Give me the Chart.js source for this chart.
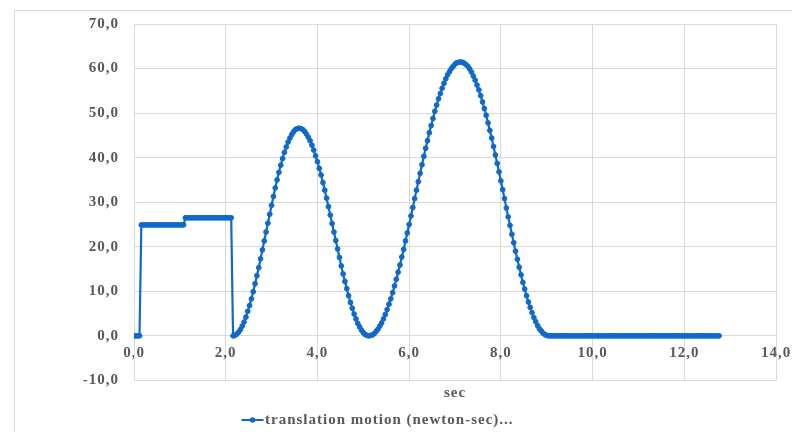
<!DOCTYPE html>
<html>
<head>
<meta charset="utf-8">
<style>
  html, body { margin: 0; padding: 0; background: #ffffff; }
  #wrap { width: 792px; height: 432px; }
</style>
<script src="https://cdn.jsdelivr.net/npm/chart.js@4/dist/chart.umd.min.js"></script>
</head>
<body>
<div id="wrap"><canvas id="c" width="792" height="432"></canvas></div>
<script>
// Sample times (s)
const timeSec = [
  0.00,0.04,0.08,0.12,0.16,0.20,0.24,0.28,0.32,0.36,0.40,0.44,0.48,0.52,0.56,0.60,0.64,0.68,0.72,0.76,0.80,0.84,0.88,0.92,0.96,
  1.00,1.04,1.08,1.12,1.16,1.20,1.24,1.28,1.32,1.36,1.40,1.44,1.48,1.52,1.56,1.60,1.64,1.68,1.72,1.76,1.80,1.84,1.88,1.92,1.96,
  2.00,2.04,2.08,2.12,2.16,2.20,2.24,2.28,2.32,2.36,2.40,2.44,2.48,2.52,2.56,2.60,2.64,2.68,2.72,2.76,2.80,2.84,2.88,2.92,2.96,
  3.00,3.04,3.08,3.12,3.16,3.20,3.24,3.28,3.32,3.36,3.40,3.44,3.48,3.52,3.56,3.60,3.64,3.68,3.72,3.76,3.80,3.84,3.88,3.92,3.96,
  4.00,4.04,4.08,4.12,4.16,4.20,4.24,4.28,4.32,4.36,4.40,4.44,4.48,4.52,4.56,4.60,4.64,4.68,4.72,4.76,4.80,4.84,4.88,4.92,4.96,
  5.00,5.04,5.08,5.12,5.16,5.20,5.24,5.28,5.32,5.36,5.40,5.44,5.48,5.52,5.56,5.60,5.64,5.68,5.72,5.76,5.80,5.84,5.88,5.92,5.96,
  6.00,6.04,6.08,6.12,6.16,6.20,6.24,6.28,6.32,6.36,6.40,6.44,6.48,6.52,6.56,6.60,6.64,6.68,6.72,6.76,6.80,6.84,6.88,6.92,6.96,
  7.00,7.04,7.08,7.12,7.16,7.20,7.24,7.28,7.32,7.36,7.40,7.44,7.48,7.52,7.56,7.60,7.64,7.68,7.72,7.76,7.80,7.84,7.88,7.92,7.96,
  8.00,8.04,8.08,8.12,8.16,8.20,8.24,8.28,8.32,8.36,8.40,8.44,8.48,8.52,8.56,8.60,8.64,8.68,8.72,8.76,8.80,8.84,8.88,8.92,8.96,
  9.00,9.04,9.08,9.12,9.16,9.20,9.24,9.28,9.32,9.36,9.40,9.44,9.48,9.52,9.56,9.60,9.64,9.68,9.72,9.76,9.80,9.84,9.88,9.92,9.96,
  10.00,10.04,10.08,10.12,10.16,10.20,10.24,10.28,10.32,10.36,10.40,10.44,10.48,10.52,10.56,10.60,10.64,10.68,10.72,10.76,10.80,10.84,10.88,10.92,10.96,
  11.00,11.04,11.08,11.12,11.16,11.20,11.24,11.28,11.32,11.36,11.40,11.44,11.48,11.52,11.56,11.60,11.64,11.68,11.72,11.76,11.80,11.84,11.88,11.92,11.96,
  12.00,12.04,12.08,12.12,12.16,12.20,12.24,12.28,12.32,12.36,12.40,12.44,12.48,12.52,12.56,12.60,12.64,12.68,12.72,12.76
];

// Translation motion (newton-sec), one value per sample time
const translationMotion = [
  0,0,0,0,24.9,24.9,24.9,24.9,24.9,24.9,24.9,24.9,24.9,24.9,24.9,24.9,24.9,24.9,24.9,24.9,24.9,24.9,24.9,24.9,24.9,
  24.9,24.9,24.9,26.5,26.5,26.5,26.5,26.5,26.5,26.5,26.5,26.5,26.5,26.5,26.5,26.5,26.5,26.5,26.5,26.5,26.5,26.5,26.5,26.5,26.5,
  26.5,26.5,26.5,26.5,0,0.1,0.4,0.8,1.4,2.2,3.1,4.2,5.5,6.8,8.3,9.9,11.7,13.5,15.3,17.3,19.3,21.3,23.3,25.3,27.3,
  29.3,31.3,33.2,35.0,36.7,38.3,39.8,41.2,42.4,43.5,44.4,45.2,45.8,46.3,46.5,46.6,46.5,46.3,45.9,45.3,44.6,43.8,42.8,41.7,40.4,
  39.1,37.6,36.1,34.4,32.7,30.9,29.0,27.1,25.2,23.3,21.4,19.5,17.6,15.7,13.9,12.2,10.6,9.0,7.5,6.2,4.9,3.8,2.8,2.0,1.3,
  0.7,0.3,0.1,0,0.1,0.2,0.5,1.0,1.5,2.2,2.9,3.8,4.8,5.9,7.1,8.3,9.7,11.2,12.7,14.3,15.9,17.7,19.4,21.3,23.1,
  25.0,26.9,28.8,30.8,32.7,34.6,36.5,38.4,40.3,42.1,43.8,45.6,47.2,48.8,50.4,51.8,53.2,54.4,55.6,56.7,57.7,58.6,59.3,60.0,60.5,
  61.0,61.3,61.4,61.5,61.4,61.2,60.9,60.5,59.9,59.2,58.3,57.4,56.3,55.2,53.9,52.5,51.0,49.5,47.8,46.1,44.4,42.5,40.6,38.7,36.8,
  34.8,32.8,30.8,28.7,26.7,24.8,22.8,20.9,19.0,17.2,15.4,13.7,12.0,10.5,9.0,7.6,6.4,5.2,4.1,3.2,2.3,1.6,1.1,0.6,0.3,
  0.1,0,0,0,0,0,0,0,0,0,0,0,0,0,0,0,0,0,0,0,0,0,0,0,0,
  0,0,0,0,0,0,0,0,0,0,0,0,0,0,0,0,0,0,0,0,0,0,0,0,0,
  0,0,0,0,0,0,0,0,0,0,0,0,0,0,0,0,0,0,0,0,0,0,0,0,0,
  0,0,0,0,0,0,0,0,0,0,0,0,0,0,0,0,0,0,0,0
];

const xTickValues = [0, 2, 4, 6, 8, 10, 12, 14];
const yTickValues = [-10, 0, 10, 20, 30, 40, 50, 60, 70];
const seriesName = 'translation motion (newton-sec)...';
const xAxisTitle = 'sec';

const LINE_BLUE = '#1069CA';
const GRID_GREY = '#d9d9d9';
const TEXT_GREY = '#595959';
const SERIF = '"Liberation Serif", "Times New Roman", serif';
const labelFont = { family: SERIF, size: 15, weight: 'bold' };

const commaDecimal = v => Number(v).toFixed(1).replace('.', ',');

// Wide bold lettering, outer frame and the legend entry
const decorPlugin = {
  id: 'decor',
  beforeUpdate(chart) { chart.ctx.letterSpacing = '1px'; },
  beforeDraw(chart) {
    const ctx = chart.ctx;
    ctx.letterSpacing = '1px';
    ctx.save();
    ctx.strokeStyle = GRID_GREY;
    ctx.lineWidth = 1;
    ctx.beginPath();
    ctx.moveTo(14.5, chart.height);
    ctx.lineTo(14.5, 10.5);
    ctx.lineTo(chart.width, 10.5);
    ctx.stroke();
    ctx.restore();
  },
  afterDraw(chart) {
    const ctx = chart.ctx;
    const ds = chart.data.datasets[0];
    const y = 420;
    ctx.save();
    ctx.strokeStyle = ds.borderColor;
    ctx.lineWidth = 2;
    ctx.beginPath();
    ctx.moveTo(241.5, y);
    ctx.lineTo(263.5, y);
    ctx.stroke();
    ctx.fillStyle = ds.pointBackgroundColor;
    ctx.beginPath();
    ctx.arc(252.5, y, 2.8, 0, Math.PI * 2);
    ctx.fill();
    ctx.letterSpacing = '1px';
    ctx.font = 'bold 15px ' + SERIF;
    ctx.fillStyle = TEXT_GREY;
    ctx.textAlign = 'left';
    ctx.textBaseline = 'middle';
    ctx.fillText(ds.label, 265, y);
    ctx.restore();
  }
};

new Chart(document.getElementById('c'), {
  type: 'line',
  data: {
    datasets: [{
      label: seriesName,
      data: timeSec.map((t, i) => ({ x: t, y: translationMotion[i] })),
      borderColor: LINE_BLUE,
      backgroundColor: LINE_BLUE,
      pointBackgroundColor: LINE_BLUE,
      pointBorderColor: LINE_BLUE,
      borderWidth: 2.2,
      pointRadius: 2.4,
      pointBorderWidth: 1,
      tension: 0,
      fill: false
    }]
  },
  options: {
    responsive: false,
    animation: false,
    devicePixelRatio: 1,
    layout: { padding: { left: 0, top: 23, right: 16, bottom: 0 } },
    plugins: {
      legend: { display: false },
      tooltip: { enabled: false }
    },
    scales: {
      x: {
        type: 'linear',
        position: { y: 0 },
        min: 0,
        max: 14,
        afterBuildTicks: s => { s.ticks = xTickValues.map(v => ({ value: v })); },
        afterFit: s => { s.paddingLeft = 0; s.paddingRight = 0; },
        grid: { color: GRID_GREY, lineWidth: 1, drawTicks: false },
        border: { color: GRID_GREY, width: 1 },
        ticks: {
          padding: 8,
          maxRotation: 0,
          autoSkip: false,
          color: TEXT_GREY,
          font: labelFont,
          callback: v => commaDecimal(v)
        }
      },
      xTitle: {
        type: 'linear',
        axis: 'x',
        position: 'bottom',
        min: 0,
        max: 14,
        grid: { display: false, drawTicks: false },
        border: { display: false },
        ticks: { display: false },
        title: {
          display: true,
          text: xAxisTitle,
          color: TEXT_GREY,
          font: labelFont,
          padding: { top: 0, bottom: 30 }
        },
        afterFit: s => { s.height = 51.6; s.paddingLeft = 0; s.paddingRight = 0; }
      },
      y: {
        type: 'linear',
        min: -10,
        max: 70,
        afterBuildTicks: s => { s.ticks = yTickValues.map(v => ({ value: v })); },
        grid: { color: GRID_GREY, lineWidth: 1, drawTicks: false },
        border: { color: GRID_GREY, width: 1 },
        ticks: {
          padding: 15,
          color: TEXT_GREY,
          font: labelFont,
          callback: v => commaDecimal(v)
        },
        afterFit: s => { s.width = 134; }
      }
    }
  },
  plugins: [decorPlugin]
});
</script>
</body>
</html>
